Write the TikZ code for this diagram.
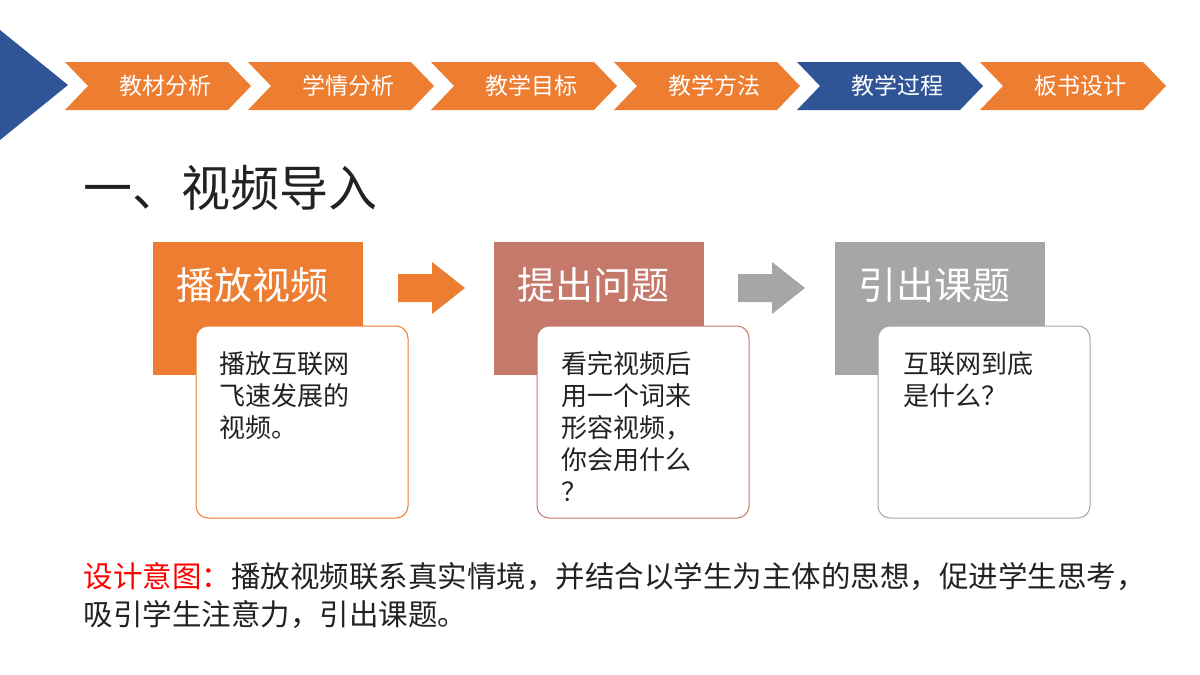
\documentclass[tikz,border=0pt]{standalone}
\usepackage{fontspec}
\setmainfont{Noto Sans CJK SC}
\definecolor{org}{HTML}{ED7D31}
\definecolor{blu}{HTML}{2F5597}
\definecolor{brn}{HTML}{C5796B}
\definecolor{gry}{HTML}{A6A6A6}
\definecolor{txt}{HTML}{222222}
\begin{document}
\begin{tikzpicture}[x=1pt,y=-1pt,
  tab/.style={font=\fontsize{23}{23}\selectfont,text=white},
  head/.style={font=\fontsize{38}{38}\selectfont,text=white,anchor=west},
  body/.style={font=\fontsize{26}{32}\selectfont,text=txt,anchor=north west,align=left},
  card/.style={fill=white,rounded corners=12pt,line width=1pt},
  note/.style={anchor=west,font=\fontsize{29.5}{29.5}\selectfont,text=txt}]
\useasboundingbox (0,0) rectangle (1200,675);
\fill[blu] (0,30) -- (68,85) -- (0,140) -- cycle;
\foreach \i/\t/\c in {0/教材分析/org,1/学情分析/org,2/教学目标/org,3/教学方法/org,4/教学过程/blu,5/板书设计/org}{
  \pgfmathsetmacro\L{65+183*\i}
  \fill[\c] (\L,62) -- (\L+163,62) -- (\L+186,86) -- (\L+163,110) -- (\L,110) -- (\L+23,86) -- cycle;
  \node[tab] (t\i) at (\L+100,86) {\t};
}
\node[anchor=west,font=\fontsize{49}{49}\selectfont,text=txt] (title) at (80,188) {一、视频导入};
\fill[org] (153,242) rectangle (363,375);
\node[head] (h1) at (173,285) {播放视频};
\draw[org,card] (196,326) rectangle (408,518);
\node[body] (b1) at (216,348) {播放互联网\\飞速发展的\\视频。};
\fill[org] (398,274) -- (432,274) -- (432,262) -- (465,288) -- (432,314) -- (432,302) -- (398,302) -- cycle;
\fill[brn] (494,242) rectangle (704,375);
\node[head] (h2) at (514,285) {提出问题};
\draw[brn,card] (537,326) rectangle (749,518);
\node[body] (b2) at (558,348) {看完视频后\\用一个词来\\形容视频，\\你会用什么\\？};
\fill[gry] (738,274) -- (772,274) -- (772,262) -- (805,288) -- (772,314) -- (772,302) -- (738,302) -- cycle;
\fill[gry] (835,242) rectangle (1045,375);
\node[head] (h3) at (855,285) {引出课题};
\draw[gry,card] (878,326) rectangle (1090,518);
\node[body] (b3) at (900,348) {互联网到底\\是什么？};
\node[note] (d1) at (80,577) {\textcolor{red}{设计意图：}播放视频联系真实情境，并结合以学生为主体的思想，促进学生思考，};
\node[note] (d2) at (80,615) {吸引学生注意力，引出课题。};
\end{tikzpicture}
\end{document}
